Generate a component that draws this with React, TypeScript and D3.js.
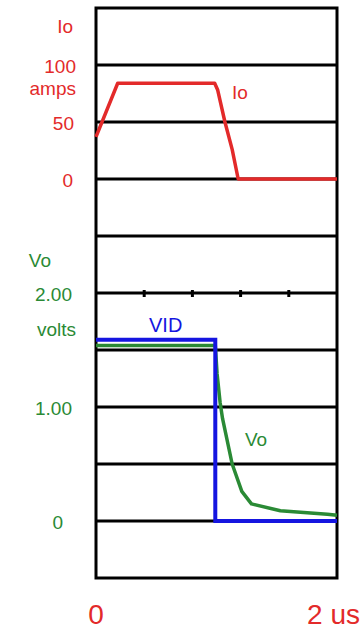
import React from "react";
import { scaleLinear, line } from "d3";

// time in us, current in amps, voltage in volts
const ioTime = [0, 0.18, 0.985, 1.01, 1.07, 1.13, 1.18, 2];
const ioAmps = [37, 84, 84, 78, 50, 26, 0, 0];

const vidTime = [0, 0.99, 0.99, 2];
const vidVolts = [1.59, 1.59, 0, 0];

const voTime = [0, 0.99, 1.005, 1.03, 1.05, 1.13, 1.21, 1.29, 1.53, 1.92, 2];
const voVolts = [1.54, 1.54, 1.29, 1.04, 0.9, 0.5, 0.26, 0.15, 0.09, 0.06, 0.05];

const ampTicks = [100, 50, 0];
const voltTicks = [2, 1, 0];
const voltTickText = ["2.00", "1.00", "0"];
const minorTicks = [0.4, 0.8, 1.2, 1.6];

const RED = "#e32a2a";
const GREEN = "#2a8a35";
const BLUE = "#1515e0";

export default function App() {
  const width = 364,
    height = 631,
    left = 96,
    right = 337,
    top = 8,
    bottom = 578,
    rows = 10;

  const x = scaleLinear().domain([0, 2]).range([left, right]);
  const yRow = scaleLinear().domain([0, rows]).range([top, bottom]);
  const yIo = scaleLinear().domain([0, 100]).range([yRow(3), yRow(1)]);
  const yV = scaleLinear().domain([0, 2]).range([yRow(9), yRow(5)]);

  const toPts = (ts: number[], vs: number[]) => ts.map((t, i) => [t, vs[i]] as [number, number]);

  const ioLine = line<[number, number]>()
    .x(d => x(d[0]))
    .y(d => yIo(d[1]));
  const vLine = line<[number, number]>()
    .x(d => x(d[0]))
    .y(d => yV(d[1]));

  const font = "'Liberation Sans', Arial, sans-serif";
  const rowLines = Array.from({ length: rows - 1 }, (_, i) => i + 1);

  return (
    <svg
      width={width}
      height={height}
      style={{ position: "absolute", left: 0, top: 0, background: "#fff" }}
      fontFamily={font}
    >
      <rect x={0} y={0} width={width} height={height} fill="#fff" />
      {rowLines.map(r => (
        <line key={r} x1={left} x2={right} y1={yRow(r)} y2={yRow(r)} stroke="#000" strokeWidth={3} />
      ))}
      <rect x={left} y={top} width={right - left} height={bottom - top} fill="none" stroke="#000" strokeWidth={3} />
      {minorTicks.map(t => (
        <line key={t} x1={x(t)} x2={x(t)} y1={yV(2) - 3} y2={yV(2) + 4} stroke="#000" strokeWidth={3} />
      ))}

      {/* left labels: current */}
      <g fill={RED} fontSize={19} textAnchor="end">
        <text x={73} y={33}>Io</text>
        {ampTicks.map(v => (
          <text key={v} x={v === 0 ? 73 : v === 50 ? 74 : 76} y={yIo(v) + 8}>
            {v}
          </text>
        ))}
        <text x={76} y={95}>amps</text>
      </g>

      {/* left labels: voltage */}
      <g fill={GREEN} fontSize={19} textAnchor="end">
        <text x={51} y={267}>Vo</text>
        {voltTicks.map((v, i) => (
          <text key={v} x={v === 0 ? 63 : 72} y={yV(v) + 8}>
            {voltTickText[i]}
          </text>
        ))}
        <text x={76} y={336}>volts</text>
      </g>

      <path d={ioLine(toPts(ioTime, ioAmps)) || ""} fill="none" stroke={RED} strokeWidth={3.5} strokeLinejoin="round" />
      <path d={vLine(toPts(voTime, voVolts)) || ""} fill="none" stroke={GREEN} strokeWidth={3.5} strokeLinejoin="round" />
      <path d={vLine(toPts(vidTime, vidVolts)) || ""} fill="none" stroke={BLUE} strokeWidth={4} />

      <text x={232} y={99} fill={RED} fontSize={19}>Io</text>
      <text x={149} y={332} fill={BLUE} fontSize={20}>VID</text>
      <text x={245} y={446} fill={GREEN} fontSize={19}>Vo</text>

      <g fill={RED} fontSize={28}>
        <text x={x(0)} y={624} textAnchor="middle">0</text>
        <text x={360} y={624} textAnchor="end">2 us</text>
      </g>
    </svg>
  );
}
